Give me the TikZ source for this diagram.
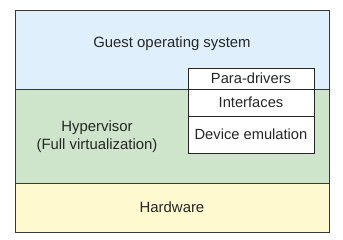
\documentclass[tikz,border=0pt]{standalone}
\usepackage{fontspec}
\setmainfont{Liberation Sans}
\usetikzlibrary{positioning}
\definecolor{guestfill}{RGB}{223,240,252}
\definecolor{hyperfill}{RGB}{206,229,203}
\definecolor{hwfill}{RGB}{255,249,207}
\definecolor{edgecol}{RGB}{55,55,55}
\tikzset{
  layerln/.style={line width=0.9pt, draw=edgecol},
  lbl/.style={font=\fontsize{14.9}{17.5}\selectfont, text=black!85, inner sep=0pt, align=center},
  cell/.style={draw=black!85, line width=0.8pt, fill=white, minimum width=126pt,
    inner sep=0pt, outer sep=0pt, font=\fontsize{14.7}{17}\selectfont, text=black!85},
}

\begin{document}
\begin{tikzpicture}[x=1pt, y=-1pt]
    \useasboundingbox (0,0) rectangle (343,240);
    % --- layers ---
    \fill[guestfill] (15,10.5) rectangle (329,89);
    \fill[hyperfill] (15,89) rectangle (329,183);
    \fill[hwfill] (15,183) rectangle (329,232);
    \draw[layerln] (15,89) -- (329,89);
    \draw[layerln] (15,183) -- (329,183);
    \draw[layerln] (15,10.5) rectangle (329,232);
    \node[lbl] (guest) at (172,44) {Guest operating system};
    \node[lbl] (hyper) at (97,136.5) {Hypervisor\\[1pt](Full virtualization)};
    \node[lbl] (hw) at (172,207) {Hardware};
    % --- stacked interface box ---
    \node[cell, minimum height=21pt, anchor=north] (para) at (251,68) {Para-drivers};
    \node[cell, minimum height=27pt, below=0pt of para] (iface) {Interfaces};
    \node[cell, minimum height=37pt, below=0pt of iface] (emul) {Device emulation};
\end{tikzpicture}
\end{document}
